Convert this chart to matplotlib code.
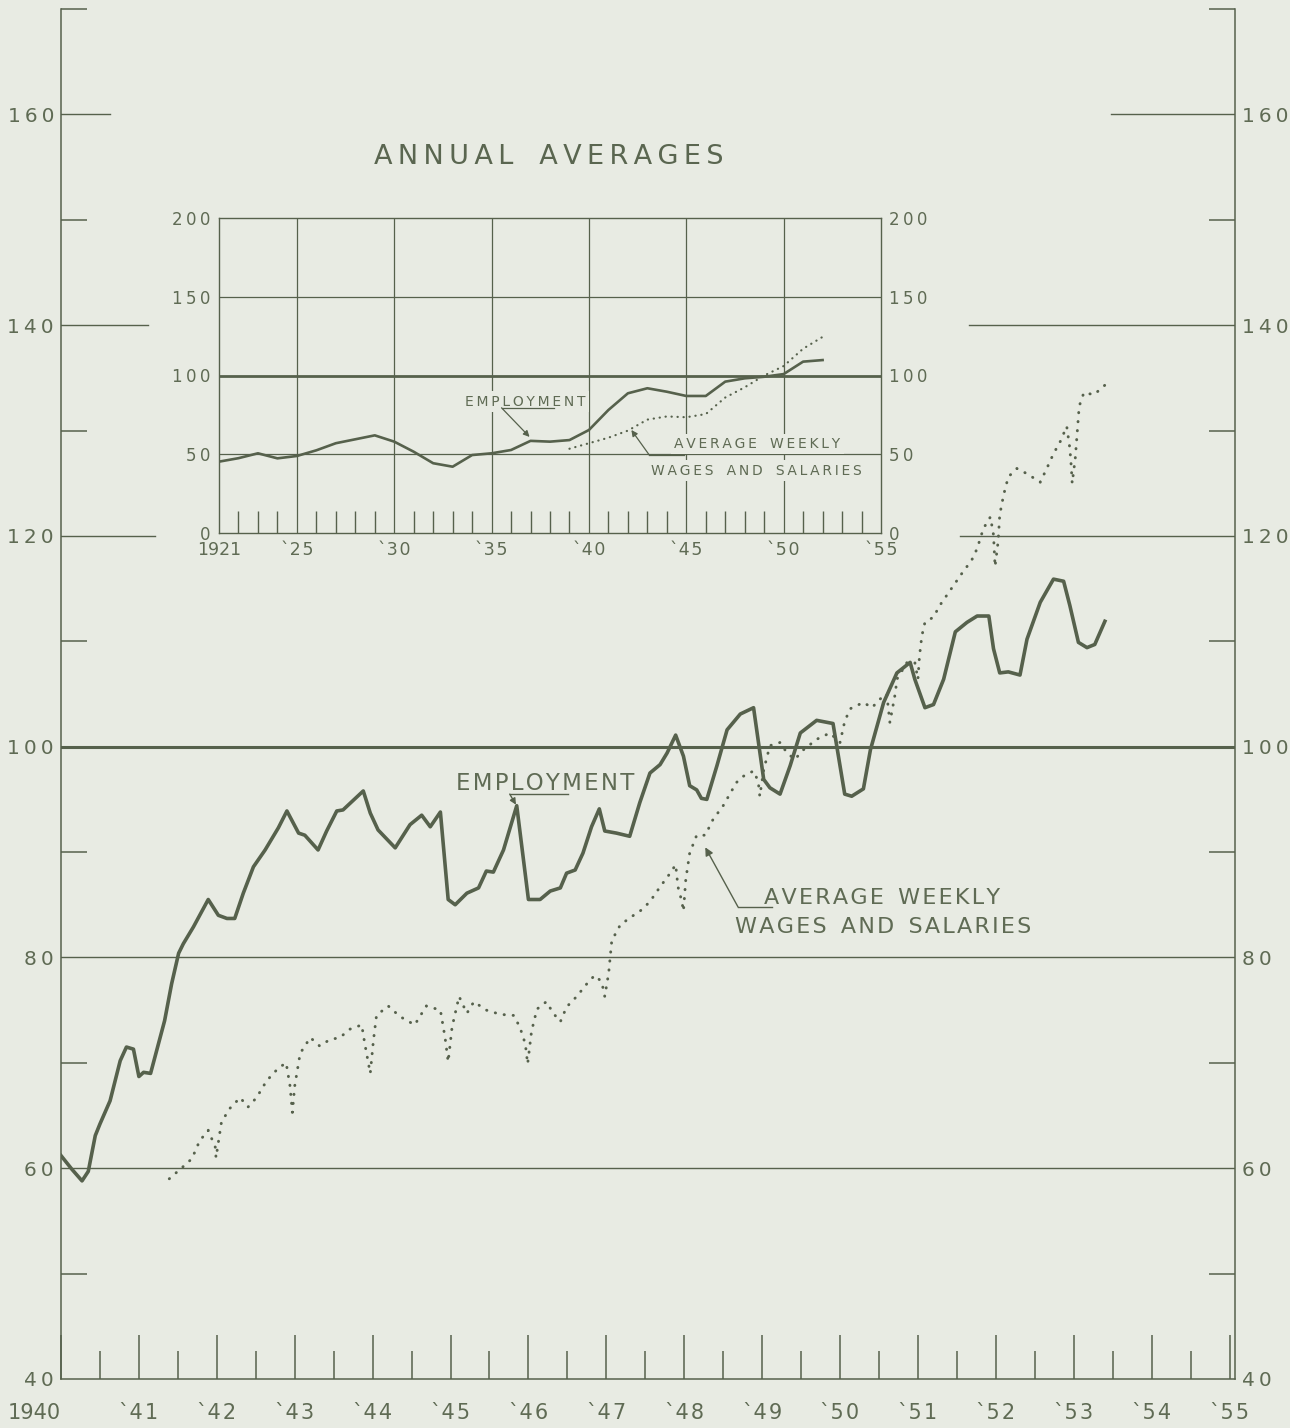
import numpy as np
import matplotlib
matplotlib.use("Agg")
import matplotlib.pyplot as plt

# monthly index, employment (1940 - 1953)
emp_t = [1940.00, 1940.14, 1940.27, 1940.35, 1940.44, 1940.50, 1940.63, 1940.76, 1940.84, 1940.93,
         1941.00, 1941.06, 1941.15, 1941.33, 1941.42, 1941.51, 1941.57, 1941.70, 1941.89,
         1942.02, 1942.13, 1942.23, 1942.34, 1942.47, 1942.62, 1942.79, 1942.90,
         1943.05, 1943.13, 1943.30, 1943.41, 1943.54, 1943.62, 1943.88, 1943.97,
         1944.07, 1944.29, 1944.48, 1944.63, 1944.74, 1944.87, 1944.97,
         1945.06, 1945.21, 1945.36, 1945.46, 1945.55, 1945.68, 1945.85,
         1946.00, 1946.15, 1946.28, 1946.41, 1946.49, 1946.60, 1946.70, 1946.81, 1946.91, 1946.98,
         1947.13, 1947.30, 1947.43, 1947.56, 1947.69, 1947.78, 1947.89, 1947.99,
         1948.07, 1948.16, 1948.22, 1948.29, 1948.42, 1948.55, 1948.72, 1948.89,
         1949.02, 1949.10, 1949.23, 1949.36, 1949.49, 1949.70, 1949.91,
         1950.06, 1950.15, 1950.30, 1950.39, 1950.56, 1950.73, 1950.90, 1950.96,
         1951.09, 1951.20, 1951.33, 1951.48, 1951.63, 1951.76, 1951.91, 1951.97,
         1952.05, 1952.16, 1952.31, 1952.40, 1952.57, 1952.74, 1952.87, 1952.95,
         1953.06, 1953.17, 1953.27, 1953.40]
emp_v = [61.2, 59.9, 58.8, 59.7, 63.1, 64.2, 66.4, 70.2, 71.5, 71.3,
         68.7, 69.1, 69.0, 74.0, 77.5, 80.4, 81.3, 82.9, 85.5,
         84.0, 83.7, 83.7, 86.1, 88.6, 90.2, 92.3, 93.9,
         91.8, 91.6, 90.2, 92.0, 93.9, 94.0, 95.8, 93.7,
         92.1, 90.4, 92.6, 93.5, 92.4, 93.8, 85.5,
         85.0, 86.1, 86.6, 88.2, 88.1, 90.2, 94.4,
         85.5, 85.5, 86.3, 86.6, 88.0, 88.3, 89.9, 92.4, 94.1, 92.0,
         91.8, 91.5, 94.7, 97.5, 98.3, 99.4, 101.1, 99.1,
         96.3, 95.9, 95.1, 95.0, 98.2, 101.6, 103.1, 103.7,
         96.9, 96.1, 95.5, 98.2, 101.3, 102.5, 102.2,
         95.5, 95.3, 96.0, 99.7, 104.2, 107.0, 108.0, 106.4,
         103.7, 104.0, 106.4, 110.9, 111.8, 112.4, 112.4, 109.3,
         107.0, 107.1, 106.8, 110.2, 113.7, 115.9, 115.7, 113.4,
         109.9, 109.4, 109.7, 111.9]

# monthly index, average weekly wages and salaries
wage_t = [1941.39, 1941.56, 1941.68, 1941.78, 1941.89, 1941.98, 1941.99,
          1942.06, 1942.17, 1942.30, 1942.40, 1942.51, 1942.64, 1942.79, 1942.89, 1942.94, 1942.97,
          1943.00, 1943.07, 1943.20, 1943.32, 1943.45, 1943.58, 1943.71, 1943.86, 1943.90, 1943.97,
          1944.01, 1944.05, 1944.20, 1944.35, 1944.54, 1944.69, 1944.87, 1944.93, 1944.97,
          1945.02, 1945.11, 1945.21, 1945.30, 1945.46, 1945.64, 1945.81, 1945.89, 1945.96, 1945.99,
          1946.04, 1946.11, 1946.23, 1946.32, 1946.41, 1946.49, 1946.62, 1946.75, 1946.85, 1946.94, 1946.98,
          1947.03, 1947.07, 1947.18, 1947.33, 1947.45, 1947.56, 1947.69, 1947.82, 1947.89, 1947.92, 1947.97, 1947.99,
          1948.02, 1948.07, 1948.16, 1948.27, 1948.37, 1948.50, 1948.67, 1948.76, 1948.89, 1948.95, 1948.97,
          1949.02, 1949.10, 1949.23, 1949.32, 1949.42, 1949.53, 1949.70, 1949.87, 1950.00,
          1950.06, 1950.13, 1950.30, 1950.41, 1950.51, 1950.60, 1950.64, 1950.71, 1950.73, 1950.86, 1950.96,
          1951.00, 1951.02, 1951.05, 1951.09, 1951.20, 1951.28, 1951.43, 1951.56, 1951.69, 1951.76, 1951.84, 1951.93,
          1951.97, 1951.99, 1952.03, 1952.05, 1952.10, 1952.16, 1952.27, 1952.40, 1952.57, 1952.66, 1952.74, 1952.83,
          1952.91, 1952.95, 1952.97, 1952.98, 1953.02, 1953.05, 1953.07, 1953.13, 1953.26, 1953.43]
wage_v = [59.0, 60.1, 60.9, 62.6, 63.6, 62.0, 61.0,
          64.4, 65.7, 66.7, 65.8, 66.7, 68.3, 69.5, 70.0, 67.8, 65.3,
          67.8, 70.9, 72.4, 71.6, 72.2, 72.4, 73.2, 73.6, 71.8, 69.0,
          72.1, 74.5, 75.4, 74.4, 73.6, 75.4, 75.0, 72.4, 70.1,
          73.4, 76.3, 74.7, 75.8, 75.0, 74.6, 74.5, 73.4, 71.8, 69.9,
          73.0, 75.1, 75.8, 74.7, 73.9, 75.3, 76.3, 77.5, 78.3, 77.7, 76.3,
          78.5, 81.6, 83.1, 83.9, 84.5, 85.3, 86.7, 88.0, 88.8, 86.7, 85.3, 84.4,
          87.4, 89.9, 91.6, 91.6, 93.1, 94.4, 96.6, 97.2, 97.7, 96.7, 95.3,
          97.8, 100.1, 100.4, 99.4, 98.8, 99.7, 100.7, 101.3, 100.4,
          102.4, 103.6, 104.2, 103.7, 104.5, 105.0, 102.3, 105.1, 106.4, 108.0, 108.0,
          106.4, 108.6, 110.5, 111.8, 112.3, 113.4, 115.0, 116.4, 117.7, 118.8, 120.7, 121.8,
          120.1, 117.1, 119.5, 122.0, 123.9, 125.6, 126.4, 125.9, 125.1, 126.5, 127.8, 129.0,
          130.4, 128.3, 126.4, 125.0, 127.4, 130.4, 132.3, 133.6, 133.4, 134.5]

# annual averages (inset)
ann_emp_years = list(range(1921, 1953))
ann_emp = [45.3, 47.5, 50.6, 47.4, 48.9, 52.5, 57.0, 59.5, 62.0, 58.0,
           51.6, 44.3, 42.1, 49.5, 50.6, 52.7, 58.5, 58.0, 59.0, 65.4,
           78.1, 88.7, 91.9, 89.7, 87.0, 87.0, 96.1, 98.2, 99.2, 100.9,
           108.8, 109.8]
ann_wage_years = list(range(1939, 1953))
ann_wage = [53.5, 57.0, 60.5, 65.0, 72.0, 74.0, 73.5, 75.5, 86.0, 92.5, 100.0, 106.0, 117.0, 124.5]

main_yticks = [40, 60, 80, 100, 120, 140, 160]
main_yminor = [50, 70, 90, 110, 130, 150, 170]
main_xyears = list(range(1940, 1956))
main_xlabels = ["1940"] + ["\u02cb%02d" % (y % 100) for y in range(1941, 1956)]
inset_yticks = [0, 50, 100, 150, 200]
inset_xyears = [1921, 1925, 1930, 1935, 1940, 1945, 1950, 1955]
inset_xlabels = ["1921"] + ["\u02cb%02d" % (y % 100) for y in inset_xyears[1:]]

BG = "#e8ebe3"
INK = "#56614c"
TXT = "#5f6b54"


def spaced(s, gap="\u2009", word="   "):
    return word.join(gap.join(w) for w in s.split(" "))


def year_label(s):
    # keep the year mark tight against the digits
    if s[0] == "\u02cb":
        return s[0] + "\u200a".join(s[1:])
    return s


fig = plt.figure(figsize=(12.9, 14.28), dpi=100, facecolor=BG)
ax = fig.add_axes([61 / 1290, 49 / 1428, 1174 / 1290, 1370 / 1428])
ax.set_facecolor(BG)
ax.set_xlim(1940, 1955.07)
ax.set_ylim(40, 170)

ax.spines["top"].set_visible(False)
for s in ["left", "right", "bottom"]:
    ax.spines[s].set_color(INK)
    ax.spines[s].set_linewidth(1.1)

# horizontal rules, broken where the inset sits
rules = {160: [(0, 0.042), (0.894, 1)], 140: [(0, 0.074), (0.773, 1)],
         120: [(0, 0.080), (0.766, 1)], 100: [(0, 1)], 80: [(0, 1)], 60: [(0, 1)]}
for yv, segs in rules.items():
    for a, b in segs:
        ax.axhline(yv, a, b, color=INK, lw=2.2 if yv == 100 else 1.0, zorder=1)

ax.plot(emp_t, emp_v, color=INK, lw=2.6, solid_joinstyle="round", zorder=3)
ax.plot(wage_t, wage_v, color=INK, lw=2.1, ls=(0, (0.1, 3.0)), dash_capstyle="round", zorder=3)

ax.set_xticks(main_xyears)
ax.set_xticklabels([year_label(l) for l in main_xlabels])
ax.set_xticks(np.arange(1940.5, 1955, 1), minor=True)
ax.tick_params(axis="x", which="major", direction="in", length=32, width=1.1, color=INK,
               pad=17, labelsize=15, labelcolor=TXT)
ax.tick_params(axis="x", which="minor", direction="in", length=20, width=1.1, color=INK)
ax.get_xticklabels()[0].set_ha("right")

ax.set_yticks(main_yticks)
ax.set_yticklabels([spaced(str(v), gap="\u2009") for v in main_yticks])
ax.set_yticks(main_yminor, minor=True)
ax.tick_params(axis="y", which="major", left=True, right=True, labelleft=True, labelright=True,
               length=0, pad=5, labelsize=14.5, labelcolor=TXT)
ax.tick_params(axis="y", which="minor", left=True, right=True, direction="in",
               length=18.5, width=1.1, color=INK)

# main labels
ax.text(1946.21, 96.55, spaced("EMPLOYMENT", gap="\u200a"), ha="center", va="center",
        fontsize=16.5, color=TXT)
ax.plot([1945.76, 1946.51], [95.5, 95.5], color=INK, lw=1.0)
ax.annotate("", xy=(1945.84, 94.5), xytext=(1945.76, 95.5),
            arrowprops=dict(arrowstyle="-|>", color=INK, lw=1.0, mutation_scale=9, shrinkA=0, shrinkB=0))

ax.text(1950.54, 85.65, spaced("AVERAGE WEEKLY", gap="\u200a", word="  "), ha="center", va="center",
        fontsize=16, color=TXT)
ax.text(1950.55, 82.9, spaced("WAGES AND SALARIES", gap="\u200a", word="  "), ha="center", va="center",
        fontsize=16, color=TXT)
ax.plot([1949.13, 1948.69], [84.8, 84.8], color=INK, lw=1.0)
ax.annotate("", xy=(1948.27, 90.45), xytext=(1948.69, 84.8),
            arrowprops=dict(arrowstyle="-|>", color=INK, lw=1.0, mutation_scale=12, shrinkA=0, shrinkB=0))

fig.text(549 / 1290, 1 - 157 / 1428, spaced("ANNUAL AVERAGES"), ha="center", va="center",
         fontsize=19.5, color="#5a6650")

# inset: annual averages
iax = fig.add_axes([219 / 1290, (1428 - 533) / 1428, 662 / 1290, 315 / 1428])
iax.set_facecolor(BG)
iax.set_xlim(1921, 1955)
iax.set_ylim(0, 200)
for s in iax.spines.values():
    s.set_color(INK)
    s.set_linewidth(1.0)
for xv in inset_xyears[1:-1]:
    iax.axvline(xv, color=INK, lw=0.9, zorder=1)
iax.axhline(50, color=INK, lw=0.9, zorder=1)
iax.axhline(150, color=INK, lw=0.9, zorder=1)
iax.axhline(100, color=INK, lw=2.0, zorder=1)

iax.plot(ann_emp_years, ann_emp, color=INK, lw=1.9, zorder=3)
iax.plot(ann_wage_years, ann_wage, color=INK, lw=1.6, ls=(0, (0.1, 2.6)), dash_capstyle="round", zorder=3)

iax.set_yticks(inset_yticks)
iax.set_yticklabels([spaced(str(v), gap="\u2009") for v in inset_yticks])
iax.tick_params(axis="y", left=True, right=True, labelleft=True, labelright=True, length=0,
                pad=6, labelsize=12, labelcolor=TXT)
iax.set_xticks(inset_xyears)
iax.set_xticklabels([year_label(l) for l in inset_xlabels])
iax.set_xticks(np.arange(1922, 1955, 1), minor=True)
iax.tick_params(axis="x", which="major", length=0, pad=6, labelsize=12.5, labelcolor=TXT)
iax.tick_params(axis="x", which="minor", direction="in", length=16, width=1.0, color=INK)

box = dict(boxstyle="square,pad=0.25", fc=BG, ec="none")
iax.text(1936.74, 83.2, spaced("EMPLOYMENT"), ha="center", va="center", fontsize=10, color=TXT,
         bbox=box, zorder=2)
iax.plot([1935.51, 1938.23], [79.5, 79.5], color=INK, lw=0.9, zorder=2)
iax.annotate("", xy=(1936.95, 61.0), xytext=(1935.51, 79.5),
             arrowprops=dict(arrowstyle="-|>", color=INK, lw=0.9, mutation_scale=9, shrinkA=0, shrinkB=0))

iax.text(1948.64, 56.5, spaced("AVERAGE WEEKLY"), ha="center", va="center", fontsize=10, color=TXT,
         bbox=box, zorder=2)
iax.text(1948.59, 39.4, spaced("WAGES AND SALARIES"), ha="center", va="center", fontsize=10, color=TXT,
         bbox=box, zorder=2)
iax.plot([1944.9, 1943.1], [49.5, 49.5], color=INK, lw=0.9, zorder=2)
iax.annotate("", xy=(1942.18, 65.4), xytext=(1943.1, 49.5),
             arrowprops=dict(arrowstyle="-|>", color=INK, lw=0.9, mutation_scale=9, shrinkA=0, shrinkB=0))

fig.savefig("out.png", dpi=100, facecolor=BG)
